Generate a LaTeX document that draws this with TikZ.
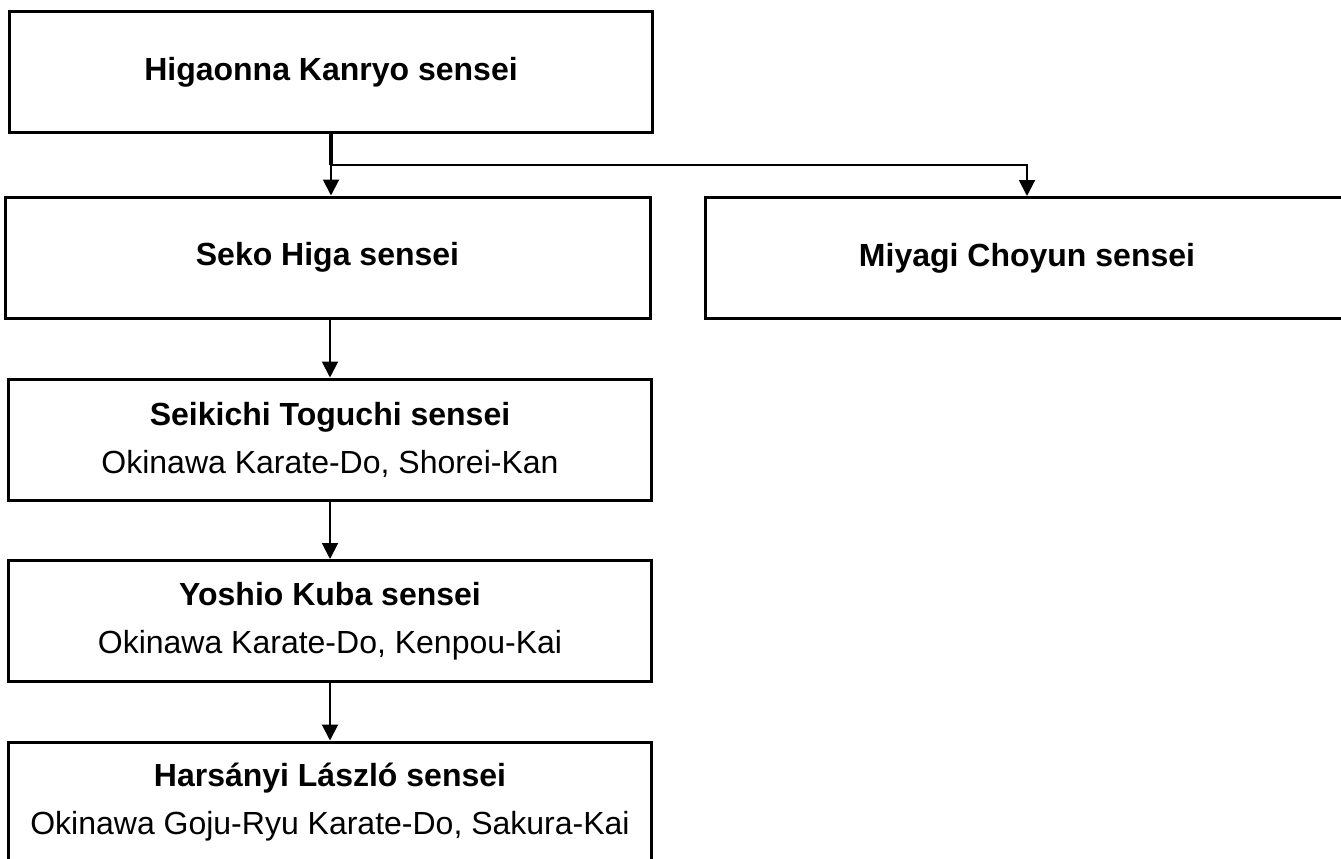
\documentclass[tikz,border=0pt]{standalone}
\usepackage{fontspec}
\setmainfont{Liberation Sans}
\usetikzlibrary{arrows.meta}
\begin{document}
\begin{tikzpicture}[x=1pt,y=-1pt,
  box/.style={draw, line width=3pt, minimum width=643pt, minimum height=121pt,
    inner sep=0pt, font=\fontsize{32}{48}\selectfont, align=center},
  conn/.style={line width=2pt, -{Triangle[width=16pt,length=16pt]}}]
\useasboundingbox (0,0) rectangle (1341,859);
\clip (0,0) rectangle (1341,859);
\node[box] (hig) at (331,72) {\textbf{Higaonna Kanryo sensei}};
\node[box, minimum width=645pt] (seko) at (327.5,257.5) {\textbf{Seko Higa sensei}};
\node[box, minimum width=644pt] (miy) at (1027,258) {\textbf{Miyagi Choyun sensei}};
\node[box] (tog) at (330,439.5) {\textbf{Seikichi Toguchi sensei}\\Okinawa Karate-Do, Shorei-Kan};
\node[box] (kub) at (330,621) {\textbf{Yoshio Kuba sensei}\\Okinawa Karate-Do, Kenpou-Kai};
\node[box] (har) at (330,802.5) {\textbf{Harsányi László sensei}\\Okinawa Goju-Ryu Karate-Do, Sakura-Kai};
\draw[line width=3.5pt] (hig.south) -- ++(0,31);
\draw[conn] (hig.south) -- (hig.south |- seko.north);
\draw[conn] (hig.south) -- ++(0,31) -| (miy.north);
\draw[conn] (tog.north |- seko.south) -- (tog.north);
\draw[conn] (tog.south) -- (kub.north);
\draw[conn] (kub.south) -- (har.north);
\end{tikzpicture}
\end{document}
